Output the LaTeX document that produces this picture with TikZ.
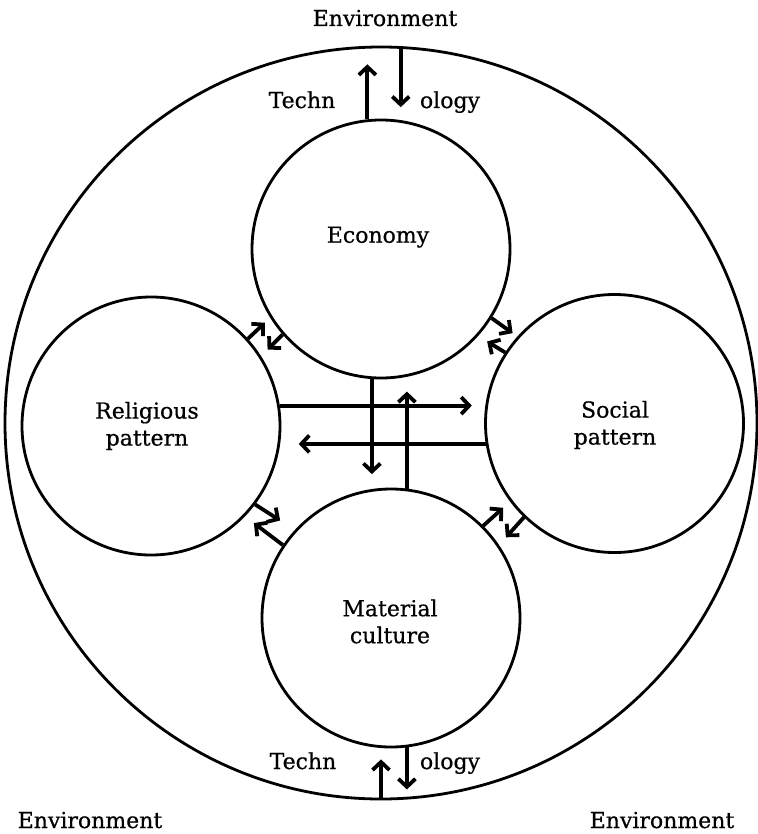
\documentclass[tikz,border=0pt]{standalone}
\usepackage{fontspec}
\setmainfont[FakeBold=0.6]{DejaVu Serif}
\usetikzlibrary{arrows.meta}
\begin{document}
\begin{tikzpicture}[x=1pt,y=-1pt,
  ring/.style={circle, draw, line width=2.8pt, minimum size=258pt, inner sep=0pt},
  flow/.style={line width=3.8pt, -{Straight Barb[length=8pt,width=17pt]}},
  lbl/.style={font=\fontsize{22}{27}\selectfont, align=center, inner sep=0pt}]
\useasboundingbox (0,0) rectangle (757,834);
% outer environment circle
\node[circle, draw, line width=2.8pt, minimum size=752pt, inner sep=0pt] (env) at (381,423) {};
% inner circles
\node[ring] (eco) at (381,249) {};
\node[ring] (rel) at (151,426) {};
\node[ring] (soc) at (614.5,423.5) {};
\node[ring] (mat) at (391,618) {};
% labels
\node[lbl, anchor=base] (ecot) at (378,242.7) {Economy};
\node[lbl] (relt) at (147,426) {Religious\\pattern};
\node[lbl] (soct) at (615,425) {Social\\pattern};
\node[lbl] (matt) at (390,621.5) {Material\\culture};
\node[lbl, anchor=base] (envt) at (385,26) {Environment};
\node[lbl, anchor=base] (envl) at (90,828) {Environment};
\node[lbl, anchor=base] (envr) at (662,828) {Environment};
\node[lbl, anchor=base] (tt) at (302,108) {Techn};
\node[lbl, anchor=base] (ot) at (450,108) {ology};
\node[lbl, anchor=base] (tb) at (303,769) {Techn};
\node[lbl, anchor=base] (ob) at (450,769) {ology};
% technology arrows
\draw[flow] (eco.96.2) -- ++(0,-55);
\draw[flow] (env.87.7) -- ++(0,61);
\draw[flow] (env.270) -- ++(0,-41);
\draw[flow] (mat.277.6) -- ++(0,42);
% central arrows
\draw[flow] (eco.266) -- ++(0,95);
\draw[flow] (mat.83.75) -- ++(0,-97);
\draw[flow] (rel.9.4) -- ++(192,0);
\draw[flow] (soc.189.2) -- ++(-187,0);
% diagonal arrows
\draw[flow] (rel.42.2) -- ++(17,-16);
\draw[flow] (eco.221.9) -- ++(-15,15);
\draw[flow] (eco.328.1) -- ++(21,15);
\draw[flow] (soc.147.2) -- ++(-18,-11);
\draw[flow] (rel.323.8) -- ++(25,16);
\draw[flow] (mat.146.9) -- ++(-29,-22);
\draw[flow] (mat.45.6) -- ++(20,-18);
\draw[flow] (soc.226.5) -- ++(-18,20);
\end{tikzpicture}
\end{document}
